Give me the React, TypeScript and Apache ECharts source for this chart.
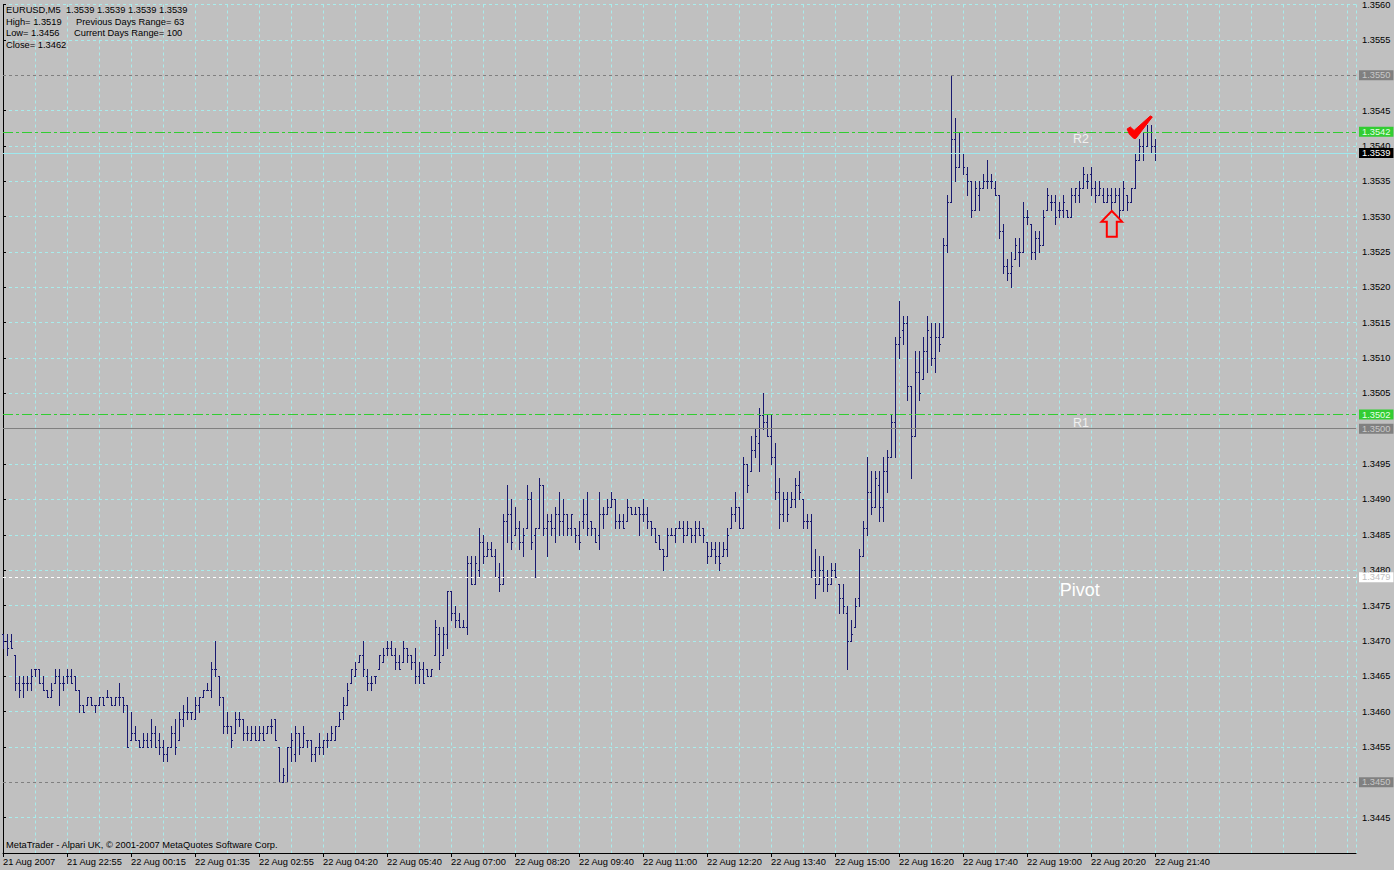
import React, { useEffect, useRef } from "react";
import * as echarts from "echarts";

// Prices are in points: 1 point = 0.0001 (13471 = 1.3471)
const timeLabels = [
  "21 Aug 2007", "21 Aug 22:55", "22 Aug 00:15", "22 Aug 01:35", "22 Aug 02:55",
  "22 Aug 04:20", "22 Aug 05:40", "22 Aug 07:00", "22 Aug 08:20", "22 Aug 09:40",
  "22 Aug 11:00", "22 Aug 12:20", "22 Aug 13:40", "22 Aug 15:00", "22 Aug 16:20",
  "22 Aug 17:40", "22 Aug 19:00", "22 Aug 20:20", "22 Aug 21:40",
];
const barsPerLabel = 16;

// [open, high, low, close] per 5-minute bar
const bars: number[][] = [
  [13471,13471,13469,13470],[13470,13471,13468,13469],[13470,13471,13469,13469],[13468,13468,13463,13464],
  [13464,13465,13462,13463],[13464,13465,13462,13464],[13464,13465,13463,13464],[13464,13466,13463,13465],
  [13466,13466,13465,13466],[13466,13466,13464,13464],[13464,13465,13463,13463],[13463,13463,13462,13462],
  [13462,13464,13462,13463],[13464,13466,13464,13465],[13465,13466,13461,13464],[13464,13465,13463,13464],
  [13465,13466,13464,13465],[13465,13466,13464,13464],[13465,13465,13463,13463],[13463,13463,13460,13461],
  [13461,13461,13460,13460],[13461,13462,13461,13462],[13462,13462,13461,13461],[13461,13461,13460,13461],
  [13461,13462,13461,13462],[13462,13462,13461,13461],[13462,13463,13462,13462],[13462,13462,13461,13461],
  [13461,13462,13461,13462],[13462,13464,13461,13462],[13462,13462,13460,13461],[13461,13461,13455,13455],
  [13456,13460,13456,13457],[13457,13458,13456,13456],[13456,13456,13455,13455],[13455,13457,13455,13456],
  [13456,13457,13455,13455],[13456,13459,13455,13457],[13457,13458,13455,13455],[13456,13457,13454,13455],
  [13455,13456,13453,13454],[13454,13455,13453,13455],[13455,13458,13455,13457],[13457,13459,13454,13455],
  [13456,13460,13456,13459],[13459,13461,13458,13460],[13460,13462,13459,13460],[13460,13460,13459,13460],
  [13459,13462,13459,13461],[13461,13462,13460,13462],[13462,13463,13462,13463],[13463,13464,13463,13463],
  [13463,13467,13462,13466],[13466,13470,13465,13466],[13465,13465,13461,13462],[13462,13462,13457,13458],
  [13458,13460,13457,13458],[13458,13458,13455,13456],[13457,13460,13457,13459],[13459,13460,13458,13459],
  [13459,13459,13456,13457],[13457,13458,13456,13457],[13456,13458,13456,13457],[13457,13458,13456,13456],
  [13456,13458,13456,13457],[13457,13458,13456,13456],[13457,13458,13457,13458],[13458,13459,13457,13458],
  [13459,13459,13456,13456],[13455,13455,13450,13450],[13450,13452,13450,13451],[13450,13455,13450,13455],
  [13455,13457,13453,13456],[13454,13458,13453,13457],[13457,13457,13454,13455],[13455,13458,13455,13457],
  [13456,13456,13455,13456],[13456,13456,13453,13454],[13454,13455,13453,13455],[13455,13457,13454,13455],
  [13455,13456,13454,13456],[13456,13457,13455,13456],[13456,13458,13456,13457],[13456,13458,13456,13458],
  [13458,13460,13458,13459],[13460,13462,13459,13461],[13461,13464,13461,13463],[13464,13466,13464,13466],
  [13465,13467,13465,13466],[13467,13468,13467,13468],[13468,13470,13465,13466],[13465,13466,13463,13464],
  [13464,13465,13463,13464],[13465,13465,13464,13465],[13466,13468,13466,13468],[13467,13469,13467,13468],
  [13469,13470,13468,13469],[13469,13470,13468,13468],[13468,13469,13466,13467],[13467,13468,13466,13466],
  [13467,13470,13467,13469],[13469,13469,13467,13468],[13468,13468,13466,13467],[13467,13469,13464,13465],
  [13465,13467,13464,13466],[13466,13467,13464,13464],[13466,13466,13465,13465],[13465,13466,13465,13466],
  [13468,13473,13468,13472],[13471,13472,13466,13467],[13468,13472,13468,13471],[13471,13477,13469,13477],
  [13477,13477,13473,13474],[13474,13475,13472,13473],[13473,13474,13472,13472],[13472,13473,13472,13472],
  [13472,13482,13471,13481],[13481,13482,13478,13478],[13478,13482,13478,13481],[13480,13486,13479,13484],
  [13484,13485,13481,13482],[13482,13484,13482,13483],[13483,13484,13482,13482],[13482,13483,13479,13479],
  [13479,13481,13477,13478],[13478,13488,13478,13487],[13487,13492,13484,13488],[13488,13490,13483,13484],
  [13485,13489,13485,13486],[13486,13487,13483,13484],[13484,13486,13482,13485],[13486,13492,13486,13490],
  [13490,13491,13483,13484],[13485,13486,13479,13486],[13486,13493,13486,13492],[13492,13492,13485,13486],
  [13486,13488,13482,13487],[13487,13488,13485,13486],[13486,13489,13484,13488],[13488,13491,13485,13487],
  [13487,13490,13485,13488],[13488,13488,13485,13486],[13486,13488,13485,13488],[13486,13486,13484,13485],
  [13485,13487,13483,13484],[13487,13490,13486,13488],[13488,13491,13485,13486],[13487,13487,13485,13486],
  [13486,13486,13484,13484],[13485,13491,13483,13488],[13488,13489,13486,13488],[13488,13490,13488,13489],
  [13489,13491,13489,13490],[13490,13490,13486,13487],[13487,13488,13486,13487],[13487,13488,13486,13486],
  [13487,13490,13487,13489],[13489,13489,13488,13488],[13488,13489,13488,13488],[13489,13489,13485,13488],
  [13488,13490,13487,13488],[13488,13489,13486,13487],[13487,13487,13485,13486],[13486,13486,13484,13484],
  [13485,13485,13483,13483],[13483,13483,13480,13482],[13482,13486,13482,13485],[13485,13486,13485,13485],
  [13485,13486,13484,13486],[13486,13487,13486,13486],[13486,13487,13484,13485],[13485,13487,13485,13486],
  [13486,13486,13484,13485],[13485,13487,13484,13486],[13486,13487,13485,13485],[13486,13486,13484,13485],
  [13484,13484,13481,13482],[13482,13484,13482,13483],[13483,13484,13481,13482],[13482,13484,13480,13481],
  [13482,13484,13482,13483],[13483,13486,13482,13485],[13486,13489,13486,13488],[13488,13491,13487,13489],
  [13489,13489,13486,13486],[13486,13496,13486,13495],[13495,13495,13491,13492],[13494,13499,13494,13497],
  [13497,13500,13496,13499],[13498,13503,13494,13502],[13502,13505,13500,13501],[13501,13502,13499,13499],
  [13499,13502,13495,13496],[13496,13498,13490,13491],[13491,13493,13486,13488],[13488,13491,13487,13490],
  [13490,13491,13487,13488],[13489,13491,13489,13490],[13490,13493,13489,13492],[13492,13494,13490,13491],
  [13490,13490,13486,13487],[13487,13488,13486,13487],[13487,13488,13479,13480],[13480,13483,13476,13478],
  [13478,13482,13478,13480],[13480,13482,13477,13479],[13479,13480,13477,13478],[13478,13481,13478,13480],
  [13480,13481,13479,13479],[13478,13478,13474,13476],[13476,13478,13474,13475],[13474,13475,13466,13470],
  [13470,13473,13470,13471],[13472,13476,13472,13475],[13476,13483,13475,13482],[13482,13487,13482,13486],
  [13486,13496,13485,13491],[13491,13494,13488,13489],[13489,13494,13489,13493],[13492,13494,13487,13489],
  [13489,13496,13487,13494],[13494,13497,13491,13496],[13496,13502,13496,13501],[13501,13513,13496,13512],
  [13512,13518,13510,13513],[13514,13516,13512,13515],[13515,13516,13504,13506],[13506,13506,13493,13499],
  [13499,13511,13499,13508],[13508,13511,13504,13505],[13507,13513,13507,13511],[13511,13516,13508,13514],
  [13513,13515,13509,13510],[13510,13515,13508,13513],[13513,13515,13511,13512],[13513,13527,13513,13526],
  [13526,13533,13525,13532],[13532,13550,13532,13541],[13541,13544,13535,13537],[13537,13542,13537,13539],
  [13539,13539,13536,13537],[13536,13537,13533,13535],[13535,13535,13530,13531],[13531,13535,13531,13534],
  [13533,13535,13531,13534],[13534,13536,13534,13535],[13535,13538,13534,13535],[13535,13536,13534,13535],
  [13534,13535,13533,13533],[13533,13533,13527,13528],[13528,13529,13522,13523],[13523,13524,13521,13522],
  [13522,13525,13520,13523],[13524,13527,13524,13526],[13525,13527,13523,13525],[13525,13532,13525,13530],
  [13530,13531,13529,13530],[13529,13529,13524,13525],[13525,13528,13524,13527],[13527,13528,13525,13526],
  [13526,13531,13526,13530],[13531,13534,13531,13533],[13532,13533,13531,13532],[13532,13533,13529,13530],
  [13531,13532,13530,13531],[13531,13533,13530,13532],[13531,13531,13530,13530],[13530,13534,13530,13533],
  [13533,13534,13532,13534],[13533,13535,13532,13534],[13534,13537,13534,13536],[13535,13536,13534,13535],
  [13536,13537,13533,13534],[13534,13535,13532,13533],[13533,13535,13533,13534],[13533,13534,13532,13532],
  [13532,13534,13532,13533],[13533,13534,13531,13532],[13532,13534,13532,13533],[13533,13534,13530,13531],
  [13531,13535,13531,13534],[13533,13533,13531,13532],[13532,13534,13532,13534],[13534,13539,13534,13538],
  [13538,13541,13538,13540],[13540,13542,13538,13539],[13540,13543,13540,13542],[13542,13543,13539,13540],
  [13540,13541,13538,13539],[13539,13539,13539,13539],
];

// Horizontal price levels
const levelPrices = [13550, 13542, 13539, 13502, 13500, 13479, 13450];
const levelKinds = ["grey-dash", "green", "bid", "green", "grey", "white", "grey-dash"];

// Header texts
const headerLines = [
  ["EURUSD,M5  1.3539 1.3539 1.3539 1.3539", ""],
  ["High= 1.3519", "Previous Days Range= 63"],
  ["Low= 1.3456", "Current Days Range= 100"],
  ["Close= 1.3462", ""],
];
const copyright = "MetaTrader - Alpari UK, \u00a9 2001-2007 MetaQuotes Software Corp.";

// Annotation anchors [bar index, price in points]
const r2Anchor = [269.5, 13541.0];
const r1Anchor = [269.5, 13500.8];
const pivotAnchor = [269.2, 13477.2];
const arrowTip = [277.2, 13530.8];

const FONT = '"Liberation Sans", Arial, sans-serif';
const fmt = (v: number) => (v / 10000).toFixed(4);
const GRID_COLOR = "#a8ecec";
const BAR_COLOR = "#191970";

function levelStyle(kind: string) {
  switch (kind) {
    case "grey-dash":
      return { line: { color: "#808080", type: [3, 3], width: 1 }, bg: "#808080", fg: "#c8c8c8" };
    case "green":
      return { line: { color: "#32cd32", type: [10, 3, 3, 3], width: 1 }, bg: "#32cd32", fg: "#e8ffe8" };
    case "bid":
      return { line: { color: "#9ee8ee", type: "solid", width: 1 }, bg: "#000000", fg: "#ffffff" };
    case "white":
      return { line: { color: "#ffffff", type: [3, 3], width: 1 }, bg: "#ffffff", fg: "#c0c0c0" };
    default:
      return { line: { color: "#808080", type: "solid", width: 1 }, bg: "#808080", fg: "#c8c8c8" };
  }
}

export default function App() {
  const ref = useRef<HTMLDivElement>(null);

  useEffect(() => {
    if (!ref.current) return;
    const chart = echarts.init(ref.current, null, { renderer: "svg" });
    const xMax = (1356 - 3) / 4;
    const labelValues = timeLabels.map((_, i) => i * barsPerLabel);

    const option: any = {
      animation: false,
      backgroundColor: "#c0c0c0",
      grid: { left: 3, right: 38, top: 2, height: 851 },
      xAxis: [
        {
          type: "value",
          min: 0,
          max: xMax,
          interval: 16,
          axisLine: { show: true, lineStyle: { color: "#000", width: 1 } },
          axisTick: { show: true, length: 4, lineStyle: { color: "#000" }, customValues: labelValues },
          axisLabel: {
            show: true,
            customValues: labelValues,
            align: "left",
            margin: 4,
            color: "#000",
            fontFamily: FONT,
            fontSize: 9.3,
            formatter: (v: number) => timeLabels[Math.round(v / barsPerLabel)] ?? "",
          },
          splitLine: { show: false },
        },
        {
          type: "value",
          min: 0,
          max: xMax,
          interval: 8,
          position: "bottom",
          axisLine: { show: false },
          axisTick: { show: false },
          axisLabel: { show: false },
          splitLine: { show: true, showMinLine: false, lineStyle: { color: GRID_COLOR, type: [3, 3], width: 1 } },
        },
      ],
      yAxis: [
        {
          type: "value",
          position: "right",
          min: 13440,
          max: 13560,
          interval: 5,
          axisLine: { show: true, lineStyle: { color: "#000", width: 1 } },
          axisTick: { show: true, length: 3, lineStyle: { color: "#000" } },
          axisLabel: {
            show: true,
            margin: 6,
            color: "#000",
            fontFamily: FONT,
            fontSize: 9.3,
            showMinLabel: false,
            formatter: (v: number) => fmt(v),
          },
          splitLine: { show: true, lineStyle: { color: GRID_COLOR, type: [3, 3], width: 1 } },
        },
        {
          type: "value",
          position: "left",
          offset: 1,
          min: 13440,
          max: 13560,
          axisLine: { show: true, lineStyle: { color: "#000", width: 1 } },
          axisTick: { show: false },
          axisLabel: { show: false },
          splitLine: { show: false },
        },
      ],
      series: [
        {
          type: "line",
          xAxisIndex: 0,
          yAxisIndex: 0,
          data: [],
          z: 1,
          silent: true,
          markLine: {
            silent: true,
            symbol: ["none", "none"],
            animation: false,
            data: levelPrices.map((p, i) => {
              const st = levelStyle(levelKinds[i]);
              return {
                yAxis: p,
                lineStyle: st.line,
                label: {
                  show: true,
                  position: "end",
                  distance: 3,
                  formatter: fmt(p),
                  backgroundColor: st.bg,
                  color: st.fg,
                  fontFamily: FONT,
                  fontSize: 9.3,
                  lineHeight: 10,
                  padding: [0, 3, 0, 3],
                },
              };
            }),
          },
        },
        {
          type: "custom",
          xAxisIndex: 0,
          yAxisIndex: 0,
          z: 3,
          silent: true,
          data: bars.map((b, i) => [i, b[0], b[1], b[2], b[3]]),
          encode: { x: 0, y: [1, 2, 3, 4] },
          renderItem: (params: any, api: any) => {
            const i = api.value(0);
            const o = api.coord([i, api.value(1)]);
            const h = api.coord([i, api.value(2)]);
            const l = api.coord([i, api.value(3)]);
            const c = api.coord([i, api.value(4)]);
            const X = Math.floor(h[0] + 0.001);
            const xm = X + 0.5;
            const yh = Math.round(h[1]);
            const yl = Math.round(l[1]) + 1;
            const yo = Math.round(o[1]) + 0.5;
            const yc = Math.round(c[1]) + 0.5;
            const style = { stroke: BAR_COLOR, lineWidth: 1 };
            return {
              type: "group",
              children: [
                { type: "line", shape: { x1: xm, y1: yh, x2: xm, y2: yl }, style },
                { type: "line", shape: { x1: X - 1, y1: yo, x2: X + 1, y2: yo }, style },
                { type: "line", shape: { x1: X, y1: yc, x2: X + 2, y2: yc }, style },
              ],
            };
          },
        },
      ],
    };

    chart.setOption(option);

    const toPx = (pt: number[]) =>
      chart.convertToPixel({ xAxisIndex: 0, yAxisIndex: 0 } as any, pt) as number[];

    const r2 = toPx(r2Anchor);
    const r1 = toPx(r1Anchor);
    const pv = toPx(pivotAnchor);
    const tip = toPx(arrowTip);

    const headerGraphics: any[] = [];
    const lineY = [9.5, 21.5, 33, 44.5];
    headerLines.forEach((ln, i) => {
      headerGraphics.push({
        type: "text",
        x: 6,
        y: lineY[i],
        z: 10,
        style: { text: ln[0], fill: "#000", fontFamily: FONT, fontSize: 9.3, align: "left", verticalAlign: "middle" },
      });
      if (ln[1]) {
        headerGraphics.push({
          type: "text",
          x: i === 1 ? 76 : 74,
          y: lineY[i],
          z: 10,
          style: { text: ln[1], fill: "#000", fontFamily: FONT, fontSize: 9.3, align: "left", verticalAlign: "middle" },
        });
      }
    });

    const tx = tip[0];
    const ty = tip[1];
    const arrowPts = [
      [0, 0], [10.3, 10.7], [5, 10.7], [5, 25.7], [-5, 25.7], [-5, 10.7], [-10.3, 10.7],
    ].map((p) => [tx + p[0], ty + p[1]]);
    const checkPts = [
      [15.3, -82], [18.5, -84], [22.3, -80.5], [38.5, -95], [40.5, -94], [24, -72.5], [22, -72.5], [17.5, -77],
    ].map((p) => [tx + p[0], ty + p[1]]);

    chart.setOption({
      graphic: [
        ...headerGraphics,
        {
          type: "text",
          x: 6,
          y: 845,
          z: 10,
          style: { text: copyright, fill: "#000", fontFamily: FONT, fontSize: 9.3, align: "left", verticalAlign: "middle" },
        },
        {
          type: "text",
          x: r2[0],
          y: r2[1],
          z: 10,
          style: { text: "R2", fill: "#f0f0f0", fontFamily: FONT, fontSize: 12.5, align: "center", verticalAlign: "middle" },
        },
        {
          type: "text",
          x: r1[0],
          y: r1[1],
          z: 10,
          style: { text: "R1", fill: "#f0f0f0", fontFamily: FONT, fontSize: 12.5, align: "center", verticalAlign: "middle" },
        },
        {
          type: "text",
          x: pv[0],
          y: pv[1],
          z: 10,
          style: { text: "Pivot", fill: "#ffffff", fontFamily: FONT, fontSize: 18, align: "center", verticalAlign: "middle" },
        },
        {
          type: "polygon",
          z: 10,
          shape: { points: arrowPts },
          style: { fill: "none", stroke: "#ff0000", lineWidth: 2 },
        },
        {
          type: "polygon",
          z: 10,
          shape: { points: checkPts },
          style: { fill: "#ff0000", stroke: "#ff0000", lineWidth: 1 },
        },
      ],
    });

    return () => chart.dispose();
  }, []);

  return (
    <div
      ref={ref}
      style={{ position: "fixed", left: 0, top: 0, width: 1394, height: 870 }}
    />
  );
}
